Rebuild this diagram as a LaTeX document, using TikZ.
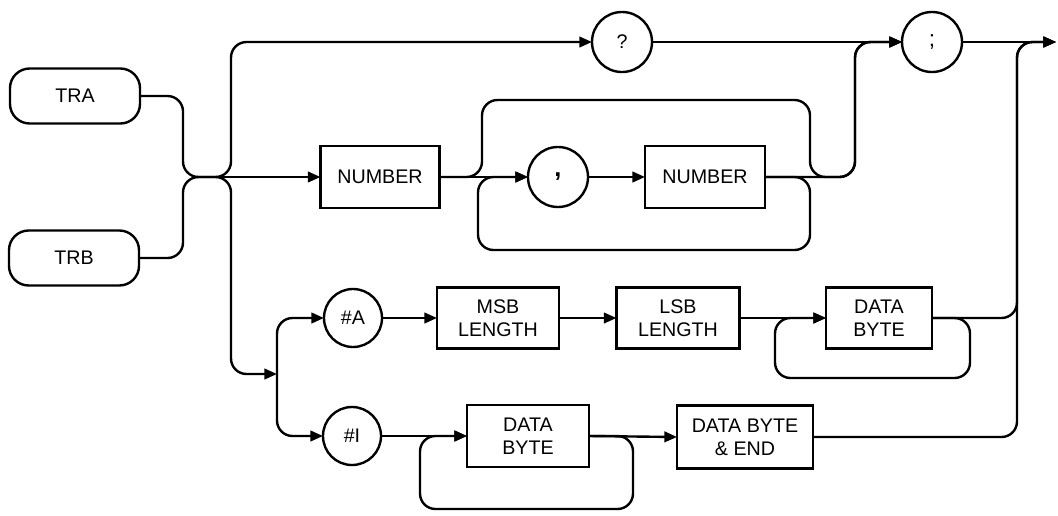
\documentclass[tikz,border=0pt]{standalone}
\usepackage{fontspec}
\setmainfont{Liberation Sans}
\usetikzlibrary{arrows.meta}
\begin{document}
\begin{tikzpicture}[x=0.025cm,y=-0.025cm,
  line width=1.7pt,
  every node/.style={font=\fontsize{14}{16.5}\selectfont, inner sep=0pt, outer sep=0pt, align=center},
  term/.style={draw, rounded corners=14pt, minimum width=3.25cm, minimum height=1.375cm},
  tok/.style={draw, circle, minimum size=1.5cm},
  stepbox/.style={draw, rectangle, minimum height=1.55cm},
  conn/.style={rounded corners=11pt},
  arr/.style={conn, -{Triangle[length=9pt,width=7.5pt]}}]
\useasboundingbox (0,0) rectangle (1058,515);

% nodes
\node[term] (tra) at (75,96) {TRA};
\node[term] (trb) at (74,258) {TRB};
\node[tok] (q) at (622,42) {?};
\node[tok] (semi) at (932,42) {\fontsize{16}{16}\selectfont;};
\node[stepbox, minimum width=2.975cm] (num1) at (380,177) {NUMBER};
\node[tok] (comma) at (558,177) {\fontsize{18}{18}\selectfont\bfseries,};
\node[stepbox, minimum width=3.0cm] (num2) at (705,177) {NUMBER};
\node[tok, minimum size=1.45cm] (hA) at (353,318) {\#A};
\node[tok, minimum size=1.45cm] (hI) at (352,436) {\#I};
\node[stepbox, minimum width=3.05cm, minimum height=1.525cm] (msb) at (498,318) {MSB\\LENGTH};
\node[stepbox, minimum width=3.075cm, minimum height=1.525cm] (lsb) at (678,318) {LSB\\LENGTH};
\node[stepbox, minimum width=2.65cm, minimum height=1.525cm] (db1) at (879,318) {DATA\\BYTE};
\node[stepbox, minimum width=3.05cm] (db2) at (528,436) {DATA\\BYTE};
\node[stepbox, minimum width=3.4cm, minimum height=1.575cm] (dbe) at (745,437) {DATA BYTE\\\& END};

% junction coordinates
\coordinate (mA) at (183,177);
\coordinate (J) at (205,177);
\coordinate (Bu) at (231,42);
\coordinate (Lc) at (231,374);
\coordinate (K) at (277,374);
\coordinate (P1) at (482,100);
\coordinate (Q) at (810,177);
\coordinate (R1) at (810,250);
\coordinate (R2) at (478,177);
\coordinate (Et) at (855,42);
\coordinate (L1) at (970,378);
\coordinate (L2) at (775,318);
\coordinate (M1) at (633,509);
\coordinate (M2) at (420,436);
\coordinate (V) at (1017,42);
\coordinate (Out) at (1056,42);

% TRA / TRB merge
\draw[conn] (tra.east) -| (mA) -- (J);
\draw[conn] (trb.east) -| (mA) -- (J);

% top branch
\draw[arr] (J) -| (Bu) -- (q.west);
\draw[arr] (q.east) -- (semi.west);

% NUMBER branch
\draw[arr] (J) -- (num1.west);
\draw[arr] (num1.east) -- (comma.west);
\draw[arr] (comma.east) -- (num2.west);
\draw[arr] (num1.east) -| (P1) -| (Q) -| (Et) -- (semi.west);
\draw[arr] (num2.east) -| (R1) -| (R2) -- (comma.west);
\draw[arr] (num2.east) -| (Et) -- (semi.west);

% binary branch
\draw[arr] (J) -| (Lc) -- (K);
\draw[arr] (K) |- (hA.west);
\draw[arr] (K) |- (hI.west);
\draw[arr] (hA.east) -- (msb.west);
\draw[arr] (msb.east) -- (lsb.west);
\draw[arr] (lsb.east) -- (db1.west);
\draw[arr] (db1.east) -| (L1) -| (L2) -- (db1.west);
\draw[arr] (hI.east) -- (db2.west);
\draw[arr] (db2.east) -| (M1) -| (M2) -- (db2.west);
\draw[arr] (db2.east) -- (dbe.west);

% exits
\draw[arr] (semi.east) -- (Out);
\draw[arr] (db1.east) -| (V) -- (Out);
\draw[arr] (dbe.east) -| (V) -- (Out);
\end{tikzpicture}
\end{document}
